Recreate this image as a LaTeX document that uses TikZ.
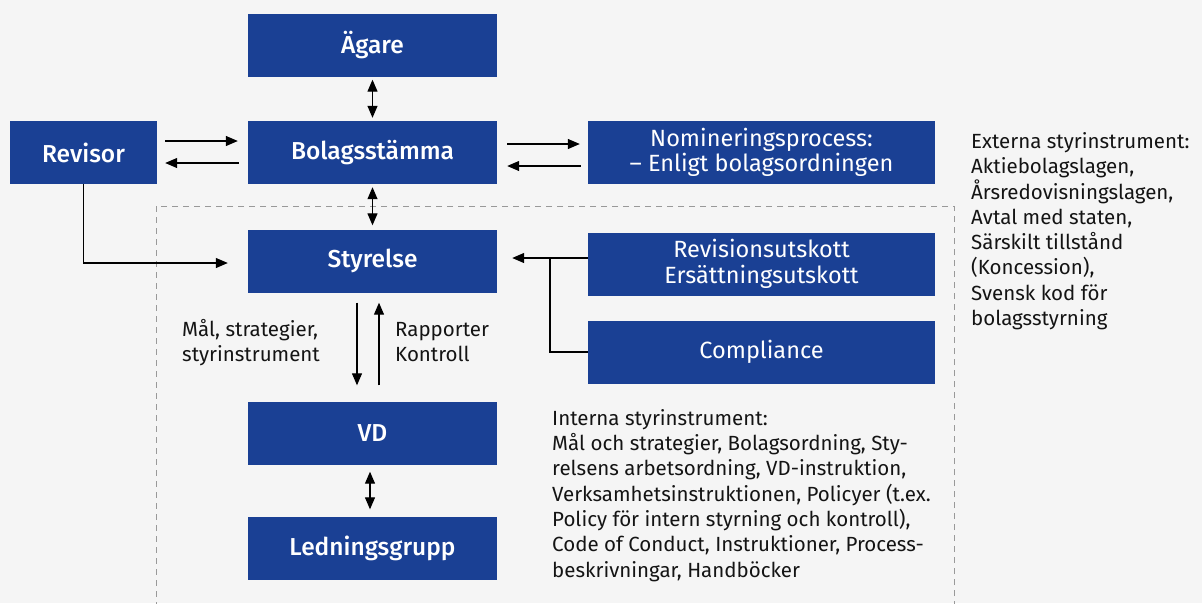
\documentclass[tikz,border=0pt]{standalone}
\usepackage{fontspec}
\setmainfont{Fira Sans}[BoldFont={Fira Sans Medium}]
\usetikzlibrary{arrows.meta}
\definecolor{boxblue}{RGB}{26,64,148}
\definecolor{bg}{RGB}{245,245,245}
\definecolor{txt}{RGB}{20,20,20}
\begin{document}
\begin{tikzpicture}[x=1pt,y=-1pt,
  box/.style={fill=boxblue, text=white, minimum width=249pt, minimum height=63pt, inner sep=0pt, align=center, font=\fontsize{24.5}{25.5}\selectfont\bfseries},
  wbox/.style={box, minimum width=347pt, font=\fontsize{23.5}{25.5}\selectfont},
  lbl/.style={text=txt, inner sep=0pt, align=left, anchor=base west, font=\fontsize{20.5}{25.3}\selectfont},
  arr/.style={line width=1.2pt, -{Triangle[length=12pt,width=10pt]}},
  dbl/.style={line width=1.2pt, {Triangle[length=12pt,width=10pt]}-{Triangle[length=12pt,width=10pt]}},
  con/.style={line width=1.2pt},
  frame/.style={draw=black!40, line width=1pt, dash pattern=on 6pt off 5pt}]
\useasboundingbox (0,0) rectangle (1202,603);
\fill[bg] (0,0) rectangle (1202,603);
\draw[frame] (156,206) rectangle (954,640);

\node[box] (agare) at (372.5,45) {Ägare};
\node[box, minimum width=147pt] (revisor) at (83.5,152.5) {Revisor};
\node[box] (bolag) at (372.5,152.5) {Bolagsstämma};
\node[wbox] (nomin) at (761.5,152.5) {Nomineringsprocess:\\– Enligt bolagsordningen};
\node[box] (styrelse) at (372.5,261) {Styrelse};
\node[wbox] (revision) at (761.5,264) {Revisionsutskott\\Ersättningsutskott};
\node[wbox] (compliance) at (761.5,352) {Compliance};
\node[box] (vd) at (372.5,433) {VD};
\node[box] (ledning) at (372.5,548) {Ledningsgrupp};

\draw[dbl, shorten <=3pt, shorten >=3pt] (agare) -- (bolag);
\draw[dbl, shorten <=3pt, shorten >=4pt] (bolag) -- (styrelse);
\draw[arr] ([shift={(8,-11.5)}]revisor.east) -- ([shift={(-10,-11.5)}]bolag.west);
\draw[arr] ([shift={(-9,10.5)}]bolag.west) -- ([shift={(8,10.5)}]revisor.east);
\draw[arr] ([shift={(10,-8.5)}]bolag.east) -- ([shift={(-8,-8.5)}]nomin.west);
\draw[arr] ([shift={(-7,13.5)}]nomin.west) -- ([shift={(10,13.5)}]bolag.east);
\draw[arr] (revisor.south) |- ([shift={(-20,2)}]styrelse.west);
\coordinate (j) at (550,258);
\draw[arr] ([shift={(0,-6)}]revision.west) -- ([shift={(15,-3)}]styrelse.east);
\draw[con] (compliance.west) -| (j);
\draw[arr] ([shift={(-15.5,10)}]styrelse.south) -- ([shift={(-15.5,-16)}]vd.north);
\draw[arr] ([shift={(6.5,-16)}]vd.north) -- ([shift={(6.5,10)}]styrelse.south);
\draw[dbl, shorten <=7pt, shorten >=7pt] ([xshift=-2.5pt]vd.south) -- ([xshift=-2.5pt]ledning.north);

\node[lbl] (mal) at (182,361.5) {Mål, strategier,\\styrinstrument};
\node[lbl] (rapp) at (395,361.5) {Rapporter\\Kontroll};
\node[lbl] (interna) at (552,577) {Interna styrinstrument:\\Mål och strategier, Bolagsordning, Sty-\\relsens arbetsordning, VD-instruktion,\\Verksamhetsinstruktionen, Policyer (t.ex.\\Policy för intern styrning och kontroll),\\Code of Conduct, Instruktioner, Process-\\beskrivningar, Handböcker};
\node[lbl] (externa) at (971,325.5) {Externa styrinstrument:\\Aktiebolagslagen,\\Årsredovisningslagen,\\Avtal med staten,\\Särskilt tillstånd\\(Koncession),\\Svensk kod för\\bolagsstyrning};
\end{tikzpicture}
\end{document}
